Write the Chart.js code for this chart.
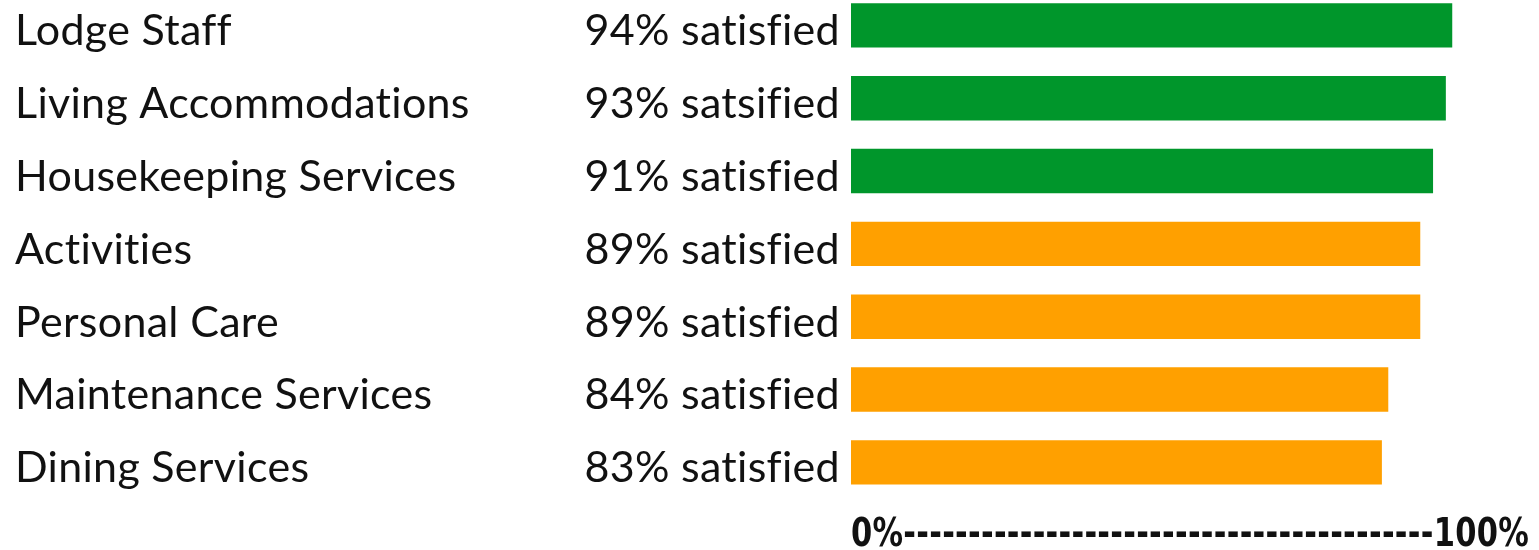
<!DOCTYPE html>
<html lang="en">
<head>
    <meta charset="UTF-8">
    <title>Satisfaction</title>
    <script src="https://cdn.jsdelivr.net/npm/chart.js"></script>
    <style>
        body { margin: 0; background: #fff; }
        #moldura { position: relative; width: 1539px; height: 550px; overflow: hidden; }
        /* canvas taller and pulled up so the first band can start above the page top */
        #box { position: absolute; left: 0; top: -34px; width: 1539px; height: 584px; }
    </style>
</head>
<body>
    <div id="moldura"><div id="box"><canvas id="grafico"></canvas></div></div>

    <script>
        const categorias = ['Lodge Staff', 'Living Accommodations', 'Housekeeping Services', 'Activities',
            'Personal Care', 'Maintenance Services', 'Dining Services'];
        const satisfeitos = [94, 93, 91, 89, 89, 84, 83];
        const rotulosPct = ['94% satisfied', '93% satsified', '91% satisfied', '89% satisfied',
            '89% satisfied', '84% satisfied', '83% satisfied'];
        const rotuloEixo = '0%' + '-'.repeat(41) + '100%';

        const fonteTexto = "Lato, 'Open Sans', sans-serif";

        // small letter spacing keeps Lato from joining "ti"
        const semLigaduras = {
            id: 'semLigaduras',
            beforeDraw: chart => { chart.ctx.letterSpacing = '0.3px'; }
        };

        // empty first line pushes the text a bit below the bar centre, like the original
        const abaixo = txt => ['', txt];

        const ctx = document.getElementById('grafico').getContext('2d');
        new Chart(ctx, {
            type: 'bar',
            data: {
                labels: categorias,
                datasets: [{
                    data: satisfeitos,
                    backgroundColor: c => c.raw >= 90 ? '#00962b' : '#ffa000',
                    categoryPercentage: 1,
                    barPercentage: 0.61,
                    yAxisID: 'y'
                }]
            },
            plugins: [semLigaduras],
            options: {
                indexAxis: 'y',
                responsive: true,
                maintainAspectRatio: false,
                animation: false,
                layout: { padding: { top: 0, left: 15, right: 10, bottom: 0 } },
                plugins: { legend: { display: false }, tooltip: { enabled: false } },
                scales: {
                    x: {
                        min: 0,
                        max: 106,
                        grid: { display: false, drawTicks: false },
                        border: { display: false },
                        ticks: { display: false },
                        title: {
                            display: true,
                            text: rotuloEixo,
                            align: 'start',
                            color: '#111',
                            padding: { top: 22, bottom: 0 },
                            font: { family: "'Liberation Sans Narrow', 'DejaVu Sans Condensed', sans-serif", size: 39, weight: 'bold', lineHeight: 0.75 }
                        }
                    },
                    y: {
                        position: 'left',
                        weight: 0,
                        grid: { display: false, drawTicks: false },
                        border: { display: false },
                        afterFit: s => { s.width = 275; },
                        ticks: {
                            crossAlign: 'near',
                            padding: 11,
                            color: '#111',
                            font: { family: fonteTexto, size: 43, lineHeight: '12px' },
                            callback: (v, i) => abaixo(rotulosPct[i])
                        }
                    },
                    y2: {
                        type: 'category',
                        position: 'left',
                        weight: 1,
                        labels: categorias,
                        offset: true,
                        grid: { display: false, drawTicks: false },
                        border: { display: false },
                        afterFit: s => { s.width = 561; },
                        ticks: {
                            crossAlign: 'far',
                            color: '#111',
                            font: { family: fonteTexto, size: 43, lineHeight: '12px' },
                            callback: (v, i) => abaixo(categorias[i])
                        }
                    }
                }
            }
        });
    </script>
</body>
</html>
